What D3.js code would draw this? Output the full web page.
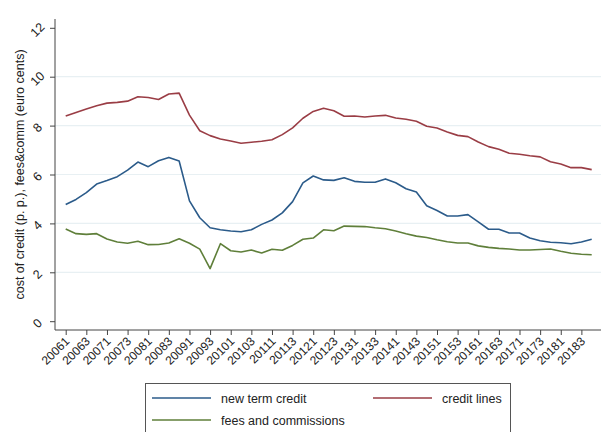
<!DOCTYPE html>
<html><head><meta charset="utf-8">
<script src="https://cdn.jsdelivr.net/npm/d3@7"></script>
<style>
body{margin:0;background:#fff}
text{font-family:"Liberation Sans",Arial,Helvetica,sans-serif;fill:#222}
</style>
</head><body>
<svg id="chart" width="606" height="432"></svg>
<script>
// Quarter codes (year + quarter)
const quarters = ["20061","20062","20063","20064","20071","20072","20073","20074",
  "20081","20082","20083","20084","20091","20092","20093","20094",
  "20101","20102","20103","20104","20111","20112","20113","20114",
  "20121","20122","20123","20124","20131","20132","20133","20134",
  "20141","20142","20143","20144","20151","20152","20153","20154",
  "20161","20162","20163","20164","20171","20172","20173","20174",
  "20181","20182","20183","20184"];

const newTermCredit = [4.77,4.98,5.26,5.61,5.75,5.91,6.18,6.51,6.32,6.56,6.70,6.55,
  4.92,4.23,3.82,3.74,3.69,3.66,3.74,3.96,4.14,4.43,4.89,5.66,5.94,5.78,
  5.76,5.87,5.72,5.68,5.68,5.82,5.66,5.42,5.28,4.72,4.53,4.30,4.30,4.36,
  4.06,3.76,3.76,3.61,3.61,3.40,3.29,3.23,3.21,3.17,3.24,3.35];

const creditLines = [8.39,8.54,8.68,8.81,8.92,8.95,9.00,9.18,9.15,9.07,9.29,9.33,
  8.43,7.79,7.59,7.45,7.37,7.28,7.32,7.36,7.42,7.63,7.91,8.30,8.58,8.71,
  8.61,8.38,8.39,8.35,8.39,8.42,8.31,8.26,8.18,7.97,7.90,7.74,7.60,7.55,
  7.33,7.14,7.03,6.87,6.83,6.77,6.72,6.52,6.43,6.28,6.28,6.20];

const feesCommissions = [3.77,3.58,3.55,3.58,3.36,3.24,3.19,3.27,3.13,3.14,3.20,3.37,
  3.19,2.95,2.15,3.17,2.88,2.83,2.91,2.79,2.94,2.90,3.10,3.35,3.40,3.74,
  3.70,3.89,3.88,3.87,3.82,3.78,3.69,3.58,3.48,3.42,3.33,3.25,3.20,3.20,
  3.08,3.02,2.98,2.95,2.91,2.91,2.93,2.95,2.86,2.78,2.74,2.72];

const xTickLabels = ["20061","20063","20071","20073","20081","20083","20091","20093",
  "20101","20103","20111","20113","20121","20123","20131","20133","20141","20143",
  "20151","20153","20161","20163","20171","20173","20181","20183"];
const yTicks = [0, 2, 4, 6, 8, 10, 12];
const yGrid = [2, 4, 6, 8, 10];

const seriesNames = ["new term credit", "credit lines", "fees and commissions"];
const seriesColors = ["#2b5b8a", "#9a3d45", "#5f7f3a"];
const seriesValues = [newTermCredit, creditLines, feesCommissions];

const svg = d3.select("#chart");
const axisColor = "#444";

const x = d3.scalePoint().domain(quarters).range([65.7, 591.7]);
const y = d3.scaleLinear().domain([0, 12]).range([321.2, 27.8]);

const plotLeft = 55, plotRight = 601, plotBottom = 330, plotTop = 19;

// horizontal grid
svg.append("g").selectAll("line").data(yGrid).join("line")
  .attr("x1", plotLeft).attr("x2", plotRight)
  .attr("y1", d => y(d)).attr("y2", d => y(d))
  .attr("stroke", "#e8f0f3").attr("stroke-width", 1.2);

// axis lines
svg.append("line").attr("x1", plotLeft).attr("x2", plotLeft).attr("y1", plotTop).attr("y2", plotBottom)
  .attr("stroke", axisColor).attr("stroke-width", 1);
svg.append("line").attr("x1", plotLeft).attr("x2", plotRight).attr("y1", plotBottom).attr("y2", plotBottom)
  .attr("stroke", axisColor).attr("stroke-width", 1);

// y axis
const yAxis = svg.append("g").attr("transform", `translate(${plotLeft},0)`)
  .call(d3.axisLeft(y).tickValues(yTicks).tickSize(5).tickPadding(0).tickFormat(d3.format("d")));
yAxis.select(".domain").remove();
yAxis.selectAll(".tick line").attr("stroke", axisColor);
yAxis.selectAll(".tick text")
  .attr("x", 0).attr("dy", 0)
  .attr("text-anchor", "middle")
  .attr("transform", "translate(-14.5,4.5) rotate(-45)")
  .style("font-size", "12.5px").style("fill", "#222");

// x axis
const xAxis = svg.append("g").attr("transform", `translate(0,${plotBottom})`)
  .call(d3.axisBottom(x).tickValues(xTickLabels).tickSize(5).tickPadding(0));
xAxis.select(".domain").remove();
xAxis.selectAll(".tick line").attr("stroke", axisColor);
xAxis.selectAll(".tick text")
  .attr("y", 0).attr("dy", 0)
  .attr("text-anchor", "end")
  .attr("transform", "translate(4,12) rotate(-45)")
  .style("font-size", "12px").style("fill", "#222");

// y axis title
svg.append("text")
  .attr("transform", `translate(24,${(plotTop + plotBottom) / 2}) rotate(-90)`)
  .attr("text-anchor", "middle")
  .style("font-size", "12.5px")
  .text("cost of credit (p. p.), fees&comm (euro cents)");

// series lines
const line = d3.line().x((d, i) => x(quarters[i])).y(d => y(d));
seriesValues.forEach((vals, k) => {
  svg.append("path").datum(vals)
    .attr("fill", "none")
    .attr("stroke", seriesColors[k])
    .attr("stroke-width", 1.6)
    .attr("stroke-linejoin", "round")
    .attr("d", line);
});

// legend
const lg = svg.append("g");
lg.append("rect").attr("x", 145.5).attr("y", 383.5).attr("width", 365).attr("height", 70)
  .attr("fill", "#fff").attr("stroke", "#555").attr("stroke-width", 1);
const legendPos = [[152, 398], [373, 398], [152, 420]];
seriesNames.forEach((name, k) => {
  const [lx, ly] = legendPos[k];
  lg.append("line").attr("x1", lx).attr("x2", lx + 59).attr("y1", ly).attr("y2", ly)
    .attr("stroke", seriesColors[k]).attr("stroke-width", 1.6);
  lg.append("text").attr("x", lx + 69).attr("y", ly + 4.5)
    .style("font-size", "12.5px").text(name);
});
</script>
</body></html>
